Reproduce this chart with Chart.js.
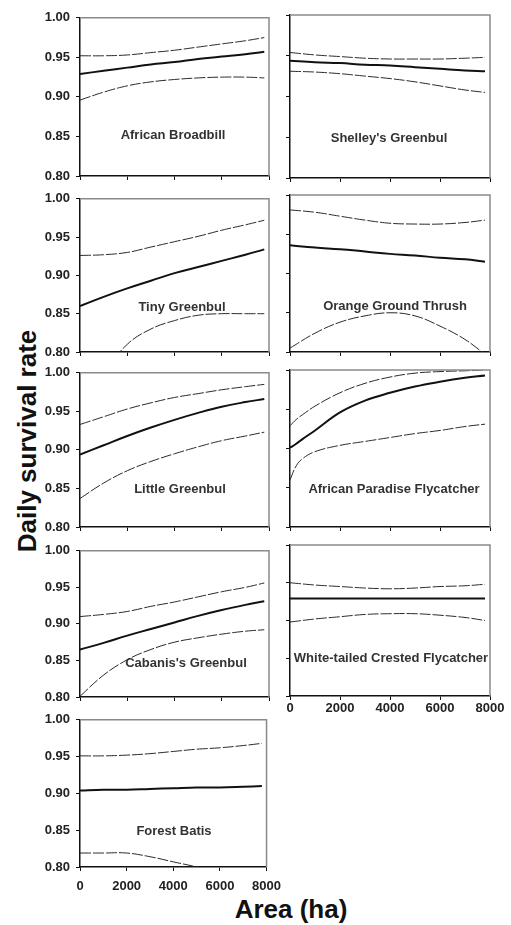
<!DOCTYPE html>
<html>
<head>
<meta charset="utf-8">
<script src="https://cdn.jsdelivr.net/npm/chart.js@4.4.0/dist/chart.umd.min.js"></script>
<style>
  body { margin: 0; background: #fff; width: 511px; height: 925px; position: relative; overflow: hidden;
         font-family: "Liberation Sans", Arial, sans-serif; }
  .panel { position: absolute; }
  .sp { position: absolute; font-weight: bold; font-size: 13px; color: #333; white-space: nowrap;
        transform: translate(-50%, -50%); }
  #ytitle { position: absolute; left: 27px; top: 441px; font-weight: bold; font-size: 26px; color: #111;
            white-space: nowrap; transform: translate(-50%, -50%) rotate(-90deg); }
  #xtitle { position: absolute; left: 291px; top: 909px; font-weight: bold; font-size: 26px; color: #111;
            white-space: nowrap; transform: translate(-50%, -50%); }
</style>
</head>
<body>
<div id="ytitle">Daily survival rate</div>
<div id="xtitle">Area (ha)</div>
<script>
// area (ha) at which the curves were read
const AREA = [0, 1000, 2000, 3000, 4000, 5000, 6000, 7000, 7800];
const AREA_FINE = [0, 250, 500, 1000, 2000, 3000, 4000, 5000, 6000, 7000, 7800];
const Y_TICKS = [0.80, 0.85, 0.90, 0.95, 1.00];
const X_TICKS = [0, 2000, 4000, 6000, 8000];

const broadbillMean  = [0.929, 0.933, 0.937, 0.941, 0.944, 0.948, 0.951, 0.954, 0.957];
const broadbillUpper = [0.952, 0.952, 0.953, 0.956, 0.959, 0.963, 0.967, 0.971, 0.975];
const broadbillLower = [0.896, 0.906, 0.914, 0.919, 0.922, 0.924, 0.925, 0.925, 0.924];

const shelleyMean  = [0.944, 0.942, 0.941, 0.939, 0.938, 0.936, 0.934, 0.932, 0.931];
const shelleyUpper = [0.954, 0.951, 0.949, 0.947, 0.946, 0.946, 0.946, 0.947, 0.948];
const shelleyLower = [0.931, 0.930, 0.928, 0.925, 0.922, 0.918, 0.913, 0.908, 0.905];

const tinyMean  = [0.860, 0.872, 0.883, 0.893, 0.903, 0.911, 0.919, 0.927, 0.934];
const tinyUpper = [0.926, 0.927, 0.930, 0.937, 0.944, 0.951, 0.959, 0.966, 0.972];
const tinyLower = [0.720, 0.772, 0.810, 0.830, 0.841, 0.848, 0.850, 0.850, 0.850];

const orangeMean  = [0.936, 0.933, 0.931, 0.928, 0.925, 0.923, 0.920, 0.918, 0.915];
const orangeUpper = [0.981, 0.978, 0.973, 0.968, 0.964, 0.963, 0.963, 0.965, 0.968];
const orangeLower = [0.805, 0.824, 0.838, 0.846, 0.850, 0.846, 0.833, 0.816, 0.797];

const littleMean  = [0.894, 0.906, 0.918, 0.929, 0.939, 0.948, 0.956, 0.962, 0.966];
const littleUpper = [0.933, 0.943, 0.953, 0.961, 0.968, 0.973, 0.978, 0.982, 0.985];
const littleLower = [0.837, 0.857, 0.873, 0.885, 0.895, 0.904, 0.912, 0.918, 0.923];

const paradiseMean  = [0.901, 0.906, 0.912, 0.923, 0.946, 0.961, 0.971, 0.979, 0.985, 0.990, 0.993];
const paradiseUpper = [0.929, 0.937, 0.943, 0.954, 0.971, 0.983, 0.991, 0.996, 0.998, 0.999, 1.000];
const paradiseLower = [0.860, 0.878, 0.887, 0.896, 0.904, 0.909, 0.914, 0.919, 0.923, 0.928, 0.931];

const cabanisMean  = [0.865, 0.874, 0.884, 0.893, 0.902, 0.911, 0.919, 0.926, 0.931];
const cabanisUpper = [0.910, 0.913, 0.917, 0.924, 0.930, 0.937, 0.944, 0.950, 0.956];
const cabanisLower = [0.801, 0.830, 0.851, 0.865, 0.875, 0.881, 0.886, 0.890, 0.892];

const whiteMean  = [0.929, 0.929, 0.929, 0.929, 0.929, 0.929, 0.929, 0.929, 0.929];
const whiteUpper = [0.950, 0.947, 0.945, 0.943, 0.942, 0.943, 0.945, 0.946, 0.948];
const whiteLower = [0.898, 0.902, 0.905, 0.908, 0.909, 0.909, 0.907, 0.904, 0.900];

const batisMean  = [0.904, 0.905, 0.905, 0.906, 0.907, 0.908, 0.908, 0.909, 0.910];
const batisUpper = [0.951, 0.951, 0.952, 0.954, 0.957, 0.960, 0.962, 0.965, 0.968];
const batisLower = [0.819, 0.819, 0.819, 0.814, 0.807, 0.800, 0.791, 0.781, 0.771];

// panel boxes (plot area in page pixels) and label spots
const panels = [
  { name: 'African Broadbill', x: AREA, mean: broadbillMean, upper: broadbillUpper, lower: broadbillLower,
    box: [80, 14, 269, 176], label: [173, 134], yLabels: true, xLabels: false },
  { name: "Shelley's Greenbul", x: AREA, mean: shelleyMean, upper: shelleyUpper, lower: shelleyLower,
    box: [290, 15, 490, 178], label: [389, 137], yLabels: false, xLabels: false },
  { name: 'Tiny Greenbul', x: AREA, mean: tinyMean, upper: tinyUpper, lower: tinyLower,
    box: [80, 195, 269, 352], label: [182, 306], yLabels: true, xLabels: false },
  { name: 'Orange Ground Thrush', x: AREA, mean: orangeMean, upper: orangeUpper, lower: orangeLower,
    box: [290, 195, 490, 352], label: [395, 305], yLabels: false, xLabels: false },
  { name: 'Little Greenbul', x: AREA, mean: littleMean, upper: littleUpper, lower: littleLower,
    box: [80, 369, 269, 527], label: [180, 488], yLabels: true, xLabels: false },
  { name: 'African Paradise Flycatcher', x: AREA_FINE, mean: paradiseMean, upper: paradiseUpper, lower: paradiseLower,
    box: [290, 370, 490, 527], label: [394, 488], yLabels: false, xLabels: false },
  { name: "Cabanis's Greenbul", x: AREA, mean: cabanisMean, upper: cabanisUpper, lower: cabanisLower,
    box: [80, 547, 269, 697], label: [186, 662], yLabels: true, xLabels: false },
  { name: 'White-tailed Crested Flycatcher', x: AREA, mean: whiteMean, upper: whiteUpper, lower: whiteLower,
    box: [290, 545, 490, 696], label: [391, 657], yLabels: false, xLabels: true, xPad: 1 },
  { name: 'Forest Batis', x: AREA, mean: batisMean, upper: batisUpper, lower: batisLower,
    box: [80, 716, 269, 867], label: [174, 830], yLabels: true, xLabels: true, xPad: 8 }
];

const PAD_TOP = 10, PAD_RIGHT = 20, X_H = 32;

// grey top and right edges of each frame
const framePlugin = {
  id: 'frame',
  afterDraw(chart) {
    const { ctx, chartArea: a } = chart;
    ctx.save();
    ctx.strokeStyle = '#8a8a8a';
    ctx.lineWidth = 1.5;
    ctx.beginPath();
    ctx.moveTo(a.left, a.top);
    ctx.lineTo(a.right, a.top);
    ctx.lineTo(a.right, a.bottom);
    ctx.stroke();
    ctx.restore();
  }
};

const pts = (xs, ys) => xs.map((x, i) => ({ x: x, y: ys[i] }));

panels.forEach(p => {
  const [l, t, r, b] = p.box;
  const yW = p.yLabels ? l : 12;
  const div = document.createElement('div');
  div.className = 'panel';
  div.style.left = (l - yW) + 'px';
  div.style.top = (t - PAD_TOP) + 'px';
  div.style.width = (r - l + yW + PAD_RIGHT) + 'px';
  div.style.height = (b - t + PAD_TOP + X_H) + 'px';
  const canvas = document.createElement('canvas');
  div.appendChild(canvas);
  document.body.appendChild(div);

  const lab = document.createElement('div');
  lab.className = 'sp';
  lab.style.left = p.label[0] + 'px';
  lab.style.top = p.label[1] + 'px';
  lab.textContent = p.name;
  document.body.appendChild(lab);

  const ci = {
    borderColor: '#2a2a2a', borderWidth: 1, borderDash: [11, 2],
    pointRadius: 0, tension: 0.4, fill: false
  };

  new Chart(canvas, {
    type: 'line',
    data: {
      datasets: [
        Object.assign({ label: 'upper', data: pts(p.x, p.upper) }, ci),
        { label: 'mean', data: pts(p.x, p.mean), borderColor: '#111', borderWidth: 2,
          pointRadius: 0, tension: 0.4, fill: false },
        Object.assign({ label: 'lower', data: pts(p.x, p.lower) }, ci)
      ]
    },
    options: {
      responsive: true,
      maintainAspectRatio: false,
      animation: false,
      events: [],
      layout: { padding: { top: PAD_TOP, right: PAD_RIGHT, left: 0, bottom: 0 } },
      plugins: { legend: { display: false }, tooltip: { enabled: false } },
      scales: {
        x: {
          type: 'linear',
          min: X_TICKS[0], max: X_TICKS[X_TICKS.length - 1],
          afterBuildTicks: s => { s.ticks = X_TICKS.map(v => ({ value: v })); },
          afterFit: s => { s.height = X_H; },
          grid: { drawOnChartArea: false, color: '#111', tickLength: 4 },
          border: { color: '#111', width: 1.5 },
          ticks: {
            display: p.xLabels, padding: p.xPad || 0, color: '#222',
            maxRotation: 0, autoSkip: false,
            font: { family: '"Liberation Sans", Arial, sans-serif', size: 13, weight: 'bold' },
            callback: v => String(v)
          }
        },
        y: {
          min: Y_TICKS[0], max: Y_TICKS[Y_TICKS.length - 1],
          afterBuildTicks: s => { s.ticks = Y_TICKS.map(v => ({ value: v })); },
          afterFit: s => { s.width = yW; },
          grid: { drawOnChartArea: false, color: '#111', tickLength: 4 },
          border: { color: '#111', width: 1.5 },
          ticks: {
            display: p.yLabels, padding: 6, color: '#222', autoSkip: false,
            font: { family: '"Liberation Sans", Arial, sans-serif', size: 13, weight: 'bold' },
            callback: v => Number(v).toFixed(2)
          }
        }
      }
    },
    plugins: [framePlugin]
  });
});
</script>
</body>
</html>
